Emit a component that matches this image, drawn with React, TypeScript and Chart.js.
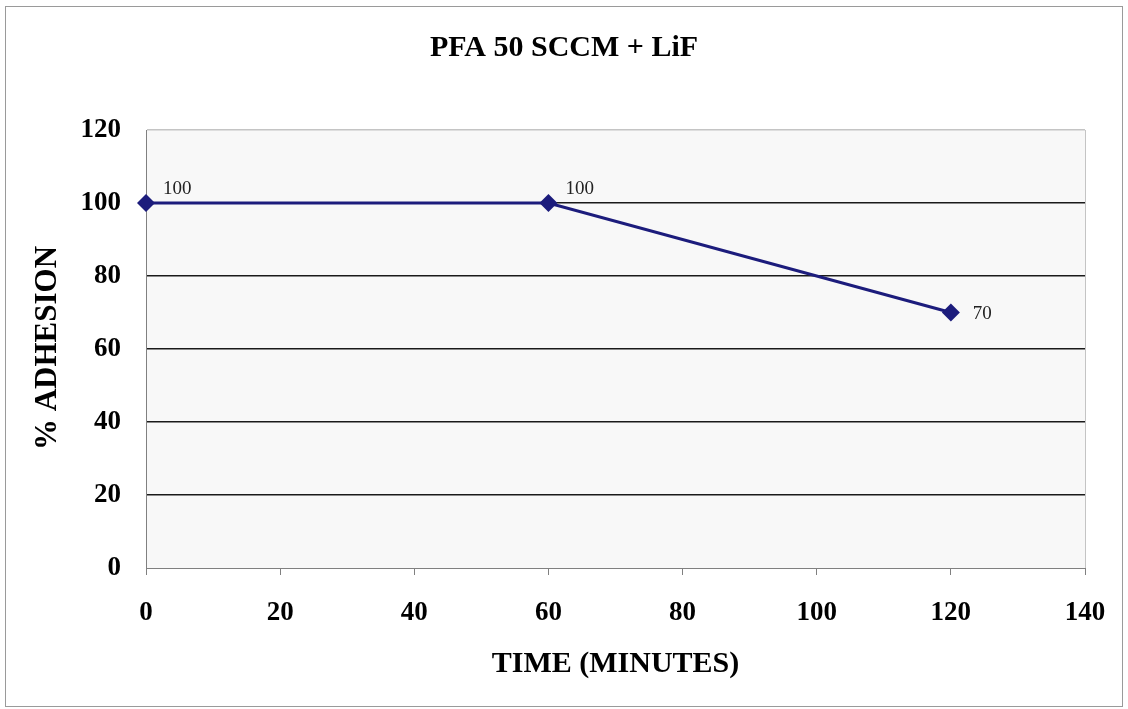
import React, { useEffect, useRef } from "react";
import { Chart, registerables } from "chart.js";

Chart.register(...registerables);

const TITLE = "PFA 50 SCCM + LiF";
const X_TITLE = "TIME (MINUTES)";
const Y_TITLE = "% ADHESION";
const timeMinutes = [0, 60, 120];
const adhesionPct = [100, 100, 70];
const labelPlacement = ["aboveRight", "aboveRight", "right"];

const SERIF = "'Liberation Serif', 'Times New Roman', serif";
const NAVY = "#1c1c7c";

const decorPlugin = {
  id: "decor",
  beforeDraw(chart: any) {
    const { ctx, chartArea: a, width, height } = chart;
    ctx.save();
    ctx.fillStyle = "#ffffff";
    ctx.fillRect(0, 0, width, height);
    ctx.fillStyle = "#f8f8f8";
    ctx.fillRect(a.left, a.top, a.right - a.left, a.bottom - a.top);
    ctx.strokeStyle = "#c4c4c4";
    ctx.lineWidth = 1;
    ctx.beginPath();
    ctx.moveTo(a.right + 0.5, a.top);
    ctx.lineTo(a.right + 0.5, a.bottom);
    ctx.stroke();
    // outer frame
    ctx.strokeStyle = "#9a9a9a";
    ctx.strokeRect(5.5, 6.5, 1117, 700);
    ctx.restore();
  },
  afterDraw(chart: any) {
    const { ctx, chartArea: a } = chart;
    ctx.save();
    ctx.fillStyle = "#000";
    ctx.textAlign = "center";
    ctx.textBaseline = "middle";
    ctx.font = `bold 30px ${SERIF}`;
    ctx.fillText(TITLE, 564, 48);
    ctx.font = `bold 30px ${SERIF}`;
    ctx.fillText(X_TITLE, (a.left + a.right) / 2, 664);
    ctx.save();
    ctx.translate(48, 348);
    ctx.rotate(-Math.PI / 2);
    ctx.font = `bold 31px ${SERIF}`;
    ctx.fillText(Y_TITLE, 0, 0);
    ctx.restore();
    // data labels
    const meta = chart.getDatasetMeta(0);
    ctx.font = `19px ${SERIF}`;
    ctx.fillStyle = "#222";
    ctx.textAlign = "left";
    meta.data.forEach((pt: any, i: number) => {
      const v = adhesionPct[i];
      if (labelPlacement[i] === "aboveRight") {
        ctx.fillText(String(v), pt.x + 17, pt.y - 14);
      } else {
        ctx.fillText(String(v), pt.x + 22, pt.y + 2);
      }
    });
    ctx.restore();
  },
};

export default function App() {
  const ref = useRef<HTMLCanvasElement>(null);
  useEffect(() => {
    const chart = new Chart(ref.current as HTMLCanvasElement, {
      type: "line",
      data: {
        datasets: [
          {
            data: timeMinutes.map((t, i) => ({ x: t, y: adhesionPct[i] })),
            borderColor: NAVY,
            backgroundColor: NAVY,
            borderWidth: 3,
            pointStyle: "rectRot",
            pointRadius: 9,
            pointBorderWidth: 0,
            pointBackgroundColor: NAVY,
            tension: 0,
            clip: false,
          },
        ],
      },
      options: {
        animation: false,
        responsive: false,
        maintainAspectRatio: false,
        layout: { padding: { left: 0, right: 43, top: 130, bottom: 0 } },
        plugins: { legend: { display: false }, tooltip: { enabled: false }, title: { display: false } },
        scales: {
          x: {
            type: "linear",
            min: 0,
            max: 140,
            afterFit: (s: any) => {
              s.height = 141;
            },
            ticks: {
              stepSize: 20,
              color: "#000",
              font: { family: SERIF, size: 27, weight: "bold" },
              padding: 22,
              maxRotation: 0,
            },
            grid: {
              drawOnChartArea: false,
              drawTicks: true,
              tickLength: 7,
              tickColor: "#808080",
            },
            border: { color: "#808080", width: 1 },
          },
          y: {
            min: 0,
            max: 120,
            afterFit: (s: any) => {
              s.width = 146;
            },
            ticks: {
              stepSize: 20,
              color: "#000",
              font: { family: SERIF, size: 27, weight: "bold" },
              padding: 25,
            },
            grid: {
              drawTicks: false,
              lineWidth: 1.5,
              color: (c: any) =>
                c.tick && c.tick.value === 0
                  ? "rgba(0,0,0,0)"
                  : c.tick && c.tick.value === 120
                  ? "#c4c4c4"
                  : "#1a1a1a",
            },
            border: { color: "#808080", width: 1 },
          },
        },
      },
      plugins: [decorPlugin],
    } as any);
    return () => chart.destroy();
  }, []);
  return (
    <div style={{ position: "fixed", left: 0, top: 0, width: 1128, height: 709 }}>
      <canvas ref={ref} width={1128} height={709} />
    </div>
  );
}
